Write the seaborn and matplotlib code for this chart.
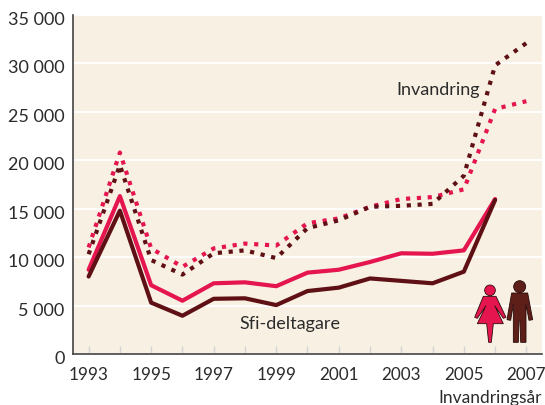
import pandas as pd
import seaborn as sns
import matplotlib.pyplot as plt
from matplotlib.patches import Polygon, Circle
from matplotlib.transforms import ScaledTranslation

years = list(range(1993, 2008))
inv_women = [11000, 20800, 10900, 9000, 10900, 11400, 11200, 13500, 14000, 15200, 16000, 16200, 17000, 25300, 26100]
inv_men = [10300, 19500, 9700, 8200, 10400, 10700, 9900, 13000, 13800, 15200, 15300, 15500, 18400, 29800, 32100]
sfi_women = [8700, 16300, 7100, 5500, 7300, 7400, 7000, 8400, 8700, 9500, 10400, 10350, 10700, 16000]
sfi_men = [8000, 14800, 5300, 3950, 5700, 5750, 5050, 6500, 6850, 7800, 7550, 7300, 8500, 15900]
y_ticks = [0, 5000, 10000, 15000, 20000, 25000, 30000, 35000]
y_labels = ['0', '5 000', '10 000', '15 000', '20 000', '25 000', '30 000', '35 000']

PINK = '#E5154F'
DARK = '#5E1014'
BG = '#F8F0E3'
TEXT = '#2b2b2b'

sns.set_theme(style='white')
plt.rcParams['font.family'] = ['Lato', 'DejaVu Sans']

W, H = 545, 406
fig = plt.figure(figsize=(W / 100, H / 100), dpi=100)
ax = fig.add_axes([73 / W, 1 - 355 / H, (542 - 73) / W, (355 - 16) / H])
ax.set_facecolor(BG)

dotted = (0, (1.0, 1.6))
for vals, col, ls in [(inv_women, PINK, dotted), (inv_men, DARK, dotted),
                      (sfi_women, PINK, '-'), (sfi_men, DARK, '-')]:
    df = pd.DataFrame({'year': years[:len(vals)], 'n': vals})
    sns.lineplot(data=df, x='year', y='n', ax=ax, color=col, lw=3, linestyle=ls)

ax.set_xlim(1992.5, 2007.5)
ax.set_ylim(0, 35000)
ax.set_xlabel('')
ax.set_ylabel('')
ax.set_yticks(y_ticks)
ax.set_yticklabels(y_labels, fontsize=13, color=TEXT)
ax.set_xticks(years)
ax.set_xticklabels([str(y) if y % 2 else '' for y in years], fontsize=12.3, color=TEXT)
ax.tick_params(axis='y', length=0, pad=6)
ax.tick_params(axis='x', direction='in', length=6, width=1, color='#d4d4d4', pad=9, bottom=True)
ax.grid(axis='y', color='white', lw=1.3)
ax.set_axisbelow(True)
for s in ['top', 'right']:
    ax.spines[s].set_visible(False)
for s in ['left', 'bottom']:
    ax.spines[s].set_color('#444444')
    ax.spines[s].set_linewidth(1.2)

# y labels sit a little under their gridlines in the original
shift = ScaledTranslation(0, -2.5 / 100, fig.dpi_scale_trans)
for lab in ax.get_yticklabels():
    lab.set_transform(lab.get_transform() + shift)

fig.text(396 / W, 1 - 95 / H, 'Invandring', fontsize=13, color=TEXT, va='baseline')
fig.text(239 / W, 1 - 329 / H, 'Sfi-deltagare', fontsize=13, color=TEXT, va='baseline')
fig.text(438 / W, 1 - 403 / H, 'Invandringsår', fontsize=12.5, color=TEXT, va='baseline')


# icons, points taken from the zoomed crop (3x, origin 400,250)
def pt(x, y):
    return (400 + x / 3) / W, 1 - (250 + y / 3) / H


woman = [(250, 142), (288, 142), (318, 205), (310, 208), (284, 170), (310, 224), (280, 224),
         (274, 280), (266, 280), (260, 224), (232, 224), (258, 170), (232, 208), (224, 205)]
man = [(335, 132), (383, 132), (398, 212), (387, 214), (378, 165), (378, 280), (362, 280),
       (360, 215), (357, 215), (355, 280), (340, 280), (340, 165), (332, 214), (321, 212)]
edge = '#2a0a0a'
fig.add_artist(Polygon([pt(*p) for p in woman], closed=True, fc=PINK, ec=edge, lw=0.6, transform=fig.transFigure))
fig.add_artist(Polygon([pt(*p) for p in man], closed=True, fc='#5E1F18', ec=edge, lw=0.6, transform=fig.transFigure))
for cx, cy, r, c in [(270, 124, 16, PINK), (359, 113, 18, '#5E1F18')]:
    x0, y0 = pt(cx, cy)
    fig.add_artist(Circle((x0 * W, y0 * H), r / 3, fc=c, ec=edge, lw=0.6, transform=None))

fig.savefig('out.png', dpi=100)
